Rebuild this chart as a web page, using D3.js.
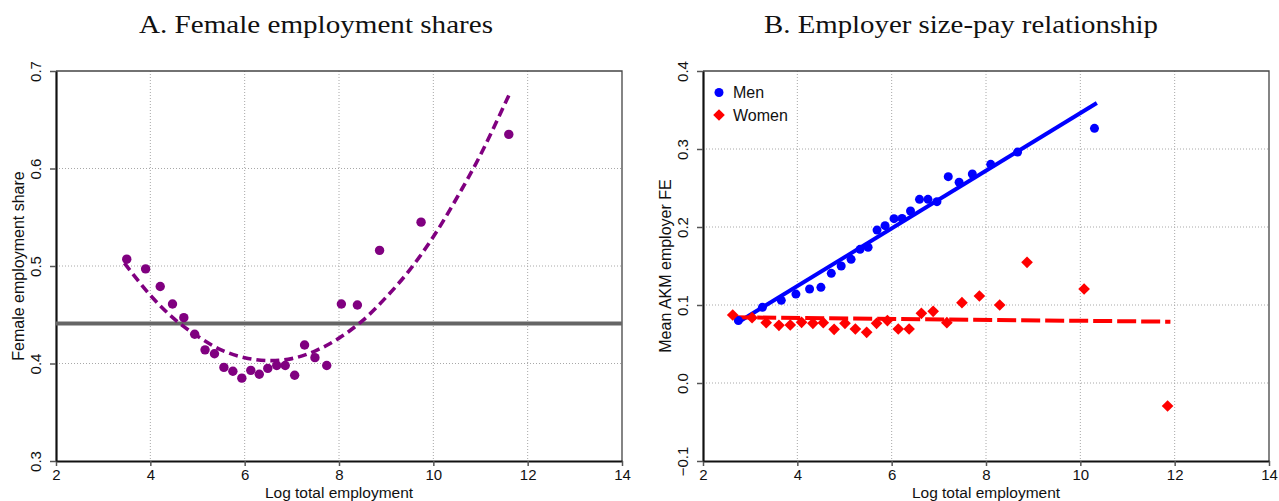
<!DOCTYPE html>
<html>
<head>
<meta charset="utf-8">
<script src="https://cdn.jsdelivr.net/npm/d3@7"></script>
<style>
  html, body { margin: 0; padding: 0; background: #fff; }
  svg { display: block; }
</style>
</head>
<body>
<svg id="chart" width="1279" height="501"></svg>
<script>
// ---------------- DATA ----------------
const xTicks = [2, 4, 6, 8, 10, 12, 14];
const xTickLabels = ["2", "4", "6", "8", "10", "12", "14"];

// Panel A: female employment share by log total employment
const yTicksA = [0.3, 0.4, 0.5, 0.6, 0.7];
const yTickLabelsA = ["0.3", "0.4", "0.5", "0.6", "0.7"];
const femaleX = [3.50, 3.90, 4.21, 4.47, 4.71, 4.94, 5.16, 5.36, 5.56, 5.75, 5.94, 6.13, 6.31,
                 6.49, 6.68, 6.86, 7.06, 7.27, 7.49, 7.74, 8.05, 8.39, 8.86, 9.74, 11.60];
const femaleShare = [0.507, 0.497, 0.479, 0.461, 0.447, 0.430, 0.414, 0.410, 0.396, 0.392, 0.385, 0.393, 0.389,
                     0.395, 0.398, 0.398, 0.388, 0.419, 0.406, 0.398, 0.461, 0.460, 0.516, 0.545, 0.635];
const fitAX = [3.45, 4.0, 4.5, 5.0, 5.5, 6.0, 6.5, 7.0, 7.5, 8.0, 8.5, 9.0, 9.5, 10.0, 10.5, 11.0, 11.6];
const fitAY = [0.503, 0.470, 0.446, 0.428, 0.414, 0.406, 0.403, 0.405, 0.413, 0.426, 0.444, 0.468, 0.496, 0.530, 0.570, 0.614, 0.675];
const meanShare = 0.441;

// Panel B: mean AKM employer FE by log total employment
const yTicksB = [-0.1, 0.0, 0.1, 0.2, 0.3, 0.4];
const yTickLabelsB = ["\u22120.1", "0.0", "0.1", "0.2", "0.3", "0.4"];
const menX = [2.75, 3.26, 3.66, 3.97, 4.26, 4.50, 4.72, 4.93, 5.14, 5.33, 5.50, 5.69, 5.86,
              6.05, 6.22, 6.40, 6.59, 6.77, 6.96, 7.20, 7.43, 7.71, 8.10, 8.67, 10.30];
const menFE = [0.080, 0.097, 0.106, 0.114, 0.1205, 0.1226, 0.1406, 0.150, 0.1585, 0.1714, 0.174, 0.196, 0.2017,
               0.2107, 0.211, 0.2205, 0.2355, 0.2355, 0.2325, 0.2645, 0.2573, 0.268, 0.2803, 0.296, 0.3265];
const womenX = [2.63, 3.04, 3.34, 3.61, 3.85, 4.09, 4.33, 4.55, 4.78, 5.01, 5.23, 5.47, 5.68,
                5.91, 6.14, 6.37, 6.63, 6.88, 7.17, 7.49, 7.86, 8.29, 8.87, 10.08, 11.85];
const womenFE = [0.0872, 0.0838, 0.0774, 0.0739, 0.0744, 0.0778, 0.0765, 0.0774, 0.0688, 0.0765, 0.0692, 0.065, 0.0765,
                 0.080, 0.0692, 0.0692, 0.0893, 0.0919, 0.0774, 0.103, 0.1115, 0.100, 0.1547, 0.1205, -0.0295];
const menFitX = [2.73, 10.35];
const menFitY = [0.0773, 0.3590];
const womenFitX = [2.64, 11.91];
const womenFitY = [0.0842, 0.0786];

const titles = ["A. Female employment shares", "B. Employer size-pay relationship"];
const yTitles = ["Female employment share", "Mean AKM employer FE"];
const xTitle = "Log total employment";
const legendLabels = ["Men", "Women"];

// ---------------- LAYOUT ----------------
const svg = d3.select("#chart");
const sans = "'Liberation Sans', Arial, Helvetica, sans-serif";
const serif = "'Liberation Serif', 'Times New Roman', serif";
const plotTop = 71, plotBottom = 461;
const panels = [
  { left: 56, right: 622, yDomain: [0.3, 0.7], yTicks: yTicksA, yLabels: yTickLabelsA,
    title: titles[0], titleX: 316, titleW: 354, yTitle: yTitles[0] },
  { left: 703, right: 1269, yDomain: [-0.1, 0.4], yTicks: yTicksB, yLabels: yTickLabelsB,
    title: titles[1], titleX: 961, titleW: 394, yTitle: yTitles[1] }
];

const scales = panels.map(p => ({
  x: d3.scaleLinear().domain([2, 14]).range([p.left, p.right]),
  y: d3.scaleLinear().domain(p.yDomain).range([plotBottom, plotTop])
}));

panels.forEach((p, i) => {
  const { x, y } = scales[i];
  const g = svg.append("g");

  // title
  g.append("text")
    .attr("x", p.titleX).attr("y", 33)
    .attr("text-anchor", "middle")
    .attr("font-family", serif).attr("font-size", 26)
    .attr("textLength", p.titleW).attr("lengthAdjust", "spacingAndGlyphs")
    .attr("fill", "#111")
    .text(p.title);

  // grid
  const grid = g.append("g").attr("stroke", "#a8a8a8").attr("stroke-width", 1)
    .attr("stroke-dasharray", "1,2");
  grid.selectAll("line.v").data(xTicks.slice(1, -1)).join("line").attr("class", "v")
    .attr("x1", d => x(d)).attr("x2", d => x(d)).attr("y1", plotTop).attr("y2", plotBottom);
  grid.selectAll("line.h").data(p.yTicks.slice(1, -1)).join("line").attr("class", "h")
    .attr("y1", d => y(d)).attr("y2", d => y(d)).attr("x1", p.left).attr("x2", p.right);

  // top and right border
  g.append("path")
    .attr("d", `M${p.left},${plotTop}H${p.right}V${plotBottom}`)
    .attr("fill", "none").attr("stroke", "#444").attr("stroke-width", 1.3);

  // x axis
  const xa = g.append("g").attr("transform", `translate(0,${plotBottom})`)
    .call(d3.axisBottom(x).tickValues(xTicks).tickFormat((d, k) => xTickLabels[k]).tickSize(5).tickPadding(3.5).tickSizeOuter(0));
  xa.select(".domain").attr("stroke", "#111").attr("stroke-width", 2.2);
  xa.selectAll(".tick line").attr("stroke", "#555").attr("stroke-width", 1.5);
  xa.selectAll(".tick text").attr("font-size", 15).attr("fill", "#111").attr("font-family", sans);

  // y axis
  const ya = g.append("g").attr("transform", `translate(${p.left},0)`)
    .call(d3.axisLeft(y).tickValues(p.yTicks).tickFormat((d, k) => p.yLabels[k]).tickSize(6).tickSizeOuter(0));
  ya.select(".domain").attr("stroke", "#111").attr("stroke-width", 2.2);
  ya.selectAll(".tick line").attr("stroke", "#555").attr("stroke-width", 1.5);
  ya.selectAll(".tick text")
    .attr("x", null).attr("dy", "0.35em")
    .attr("text-anchor", "middle")
    .attr("transform", "translate(-20.5,0) rotate(-90)")
    .attr("font-size", 15).attr("fill", "#111").attr("font-family", sans);

  // axis titles
  g.append("text")
    .attr("transform", `translate(${p.left - 38},${(plotTop + plotBottom) / 2}) rotate(-90)`)
    .attr("dy", "0.35em").attr("text-anchor", "middle")
    .attr("font-family", sans).attr("font-size", 16).attr("fill", "#111")
    .text(p.yTitle);
  g.append("text")
    .attr("x", (p.left + p.right) / 2).attr("y", 497.5)
    .attr("text-anchor", "middle")
    .attr("font-family", sans).attr("font-size", 15.5).attr("fill", "#111")
    .text(xTitle);
});

// ---------------- PANEL A marks ----------------
{
  const { x, y } = scales[0];
  const g = svg.append("g");
  g.append("line")
    .attr("x1", panels[0].left).attr("x2", panels[0].right)
    .attr("y1", y(meanShare)).attr("y2", y(meanShare))
    .attr("stroke", "#666").attr("stroke-width", 4);
  const fit = fitAX.map((d, k) => [d, fitAY[k]]);
  g.append("path")
    .attr("d", d3.line().x(d => x(d[0])).y(d => y(d[1])).curve(d3.curveCatmullRom)(fit))
    .attr("fill", "none").attr("stroke", "#800080").attr("stroke-width", 3.6)
    .attr("stroke-dasharray", "9,5");
  g.selectAll("circle").data(femaleX.map((d, k) => [d, femaleShare[k]])).join("circle")
    .attr("cx", d => x(d[0])).attr("cy", d => y(d[1])).attr("r", 4.7)
    .attr("fill", "#800080");
}

// ---------------- PANEL B marks ----------------
{
  const { x, y } = scales[1];
  const g = svg.append("g");
  const line = d3.line().x(d => x(d[0])).y(d => y(d[1]));
  g.append("path")
    .attr("d", line(menFitX.map((d, k) => [d, menFitY[k]])))
    .attr("fill", "none").attr("stroke", "#0000ff").attr("stroke-width", 4);
  g.append("path")
    .attr("d", line(womenFitX.map((d, k) => [d, womenFitY[k]])))
    .attr("fill", "none").attr("stroke", "#ff0000").attr("stroke-width", 4)
    .attr("stroke-dasharray", "19,5");
  g.selectAll("circle").data(menX.map((d, k) => [d, menFE[k]])).join("circle")
    .attr("cx", d => x(d[0])).attr("cy", d => y(d[1])).attr("r", 4.5)
    .attr("fill", "#0000ff");
  const diamond = d3.symbol().type(d3.symbolSquare).size(68);
  g.selectAll("path.dm").data(womenX.map((d, k) => [d, womenFE[k]])).join("path")
    .attr("class", "dm")
    .attr("d", diamond)
    .attr("transform", d => `translate(${x(d[0])},${y(d[1])}) rotate(45)`)
    .attr("fill", "#ff0000");

  // legend
  const lg = svg.append("g");
  lg.append("circle").attr("cx", 719).attr("cy", 92.5).attr("r", 4.5).attr("fill", "#0000ff");
  lg.append("path").attr("d", diamond).attr("transform", "translate(719,115) rotate(45)").attr("fill", "#ff0000");
  lg.selectAll("text").data(legendLabels).join("text")
    .attr("x", 733).attr("y", (d, k) => 92.5 + k * 22.5).attr("dy", "0.35em")
    .attr("font-family", sans).attr("font-size", 16).attr("fill", "#111")
    .text(d => d);
}
</script>
</body>
</html>
